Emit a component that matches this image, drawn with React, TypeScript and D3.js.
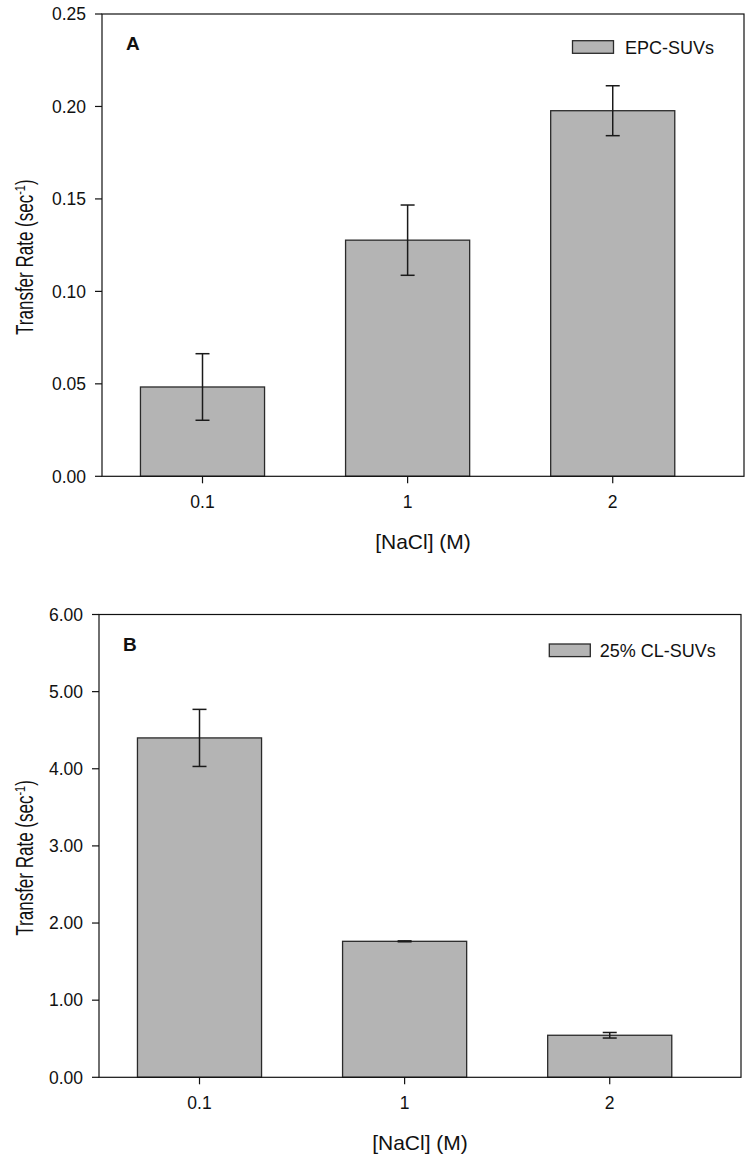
import React from "react";
import * as d3 from "d3";

const categories = ["0.1", "1", "2"];
const epcValues = [0.0483, 0.1277, 0.1977];
const epcErrors = [0.018, 0.019, 0.0135];
const clValues = [4.4, 1.763, 0.545];
const clErrors = [0.37, 0.006, 0.036];
const epcTicks = [0, 0.05, 0.1, 0.15, 0.2, 0.25];
const clTicks = [0, 1, 2, 3, 4, 5, 6];

const FONT = "'Liberation Sans', Arial, sans-serif";

type PanelProps = {
  letter: string;
  legend: string;
  values: number[];
  errors: number[];
  ticks: number[];
  yMax: number;
  fmt: (v: number) => string;
  left: number;
  right: number;
  top: number;
  bottom: number;
  legendX: number;
  legendY: number;
  legendGap: number;
};

function Panel(p: PanelProps) {
  const x = d3.scaleLinear().domain([-0.49, 2.64]).range([p.left, p.right]);
  const y = d3.scaleLinear().domain([0, p.yMax]).range([p.bottom, p.top]);
  const bw = x(0.605) - x(0);
  const capW = 7;
  return (
    <g>
      {p.values.map((v, i) => (
        <rect
          key={"b" + i}
          x={x(i) - bw / 2}
          y={y(v)}
          width={bw}
          height={y(0) - y(v)}
          fill="#b4b4b4"
          stroke="#2a2a2a"
          strokeWidth={1.3}
        />
      ))}
      {p.values.map((v, i) => {
        const cx = x(i);
        const y1 = y(v + p.errors[i]);
        const y2 = y(v - p.errors[i]);
        return (
          <g key={"e" + i} stroke="#1a1a1a" strokeWidth={1.5}>
            <line x1={cx} x2={cx} y1={y1} y2={y2} />
            <line x1={cx - capW} x2={cx + capW} y1={y1} y2={y1} />
            <line x1={cx - capW} x2={cx + capW} y1={y2} y2={y2} />
          </g>
        );
      })}
      <rect
        x={p.left}
        y={p.top}
        width={p.right - p.left}
        height={p.bottom - p.top}
        fill="none"
        stroke="#111"
        strokeWidth={1.2}
      />
      {p.ticks.map((t) => (
        <g key={"yt" + t}>
          <line x1={p.left - 7} x2={p.left} y1={y(t)} y2={y(t)} stroke="#111" strokeWidth={1.2} />
          <text
            x={p.left - 16}
            y={y(t)}
            dy="0.36em"
            textAnchor="end"
            fontSize={17.5}
            fontFamily={FONT}
            fill="#111"
          >
            {p.fmt(t)}
          </text>
        </g>
      ))}
      {categories.map((c, i) => (
        <g key={"xt" + c}>
          <line x1={x(i)} x2={x(i)} y1={p.bottom} y2={p.bottom + 7} stroke="#111" strokeWidth={1.2} />
          <text
            x={x(i)}
            y={p.bottom + 32}
            textAnchor="middle"
            fontSize={17.5}
            fontFamily={FONT}
            fill="#111"
          >
            {c}
          </text>
        </g>
      ))}
      <text
        x={(p.left + p.right) / 2}
        y={p.bottom + 73}
        textAnchor="middle"
        fontSize={21}
        fontFamily={FONT}
        fill="#111"
      >
        [NaCl] (M)
      </text>
      <text
        transform={`translate(33,${(p.top + p.bottom) / 2 + 12}) rotate(-90) scale(1,1.4)`}
        textAnchor="middle"
        fontSize={17}
        fontFamily={FONT}
        fill="#111"
      >
        Transfer Rate (sec
        <tspan dy="-6" fontSize={11}>-1</tspan>
        <tspan dy="6">)</tspan>
      </text>
      <text
        x={p.left + 24}
        y={p.top + 36}
        fontSize={19}
        fontWeight="bold"
        fontFamily={FONT}
        fill="#111"
      >
        {p.letter}
      </text>
      <rect
        x={p.legendX}
        y={p.legendY}
        width={41}
        height={12.6}
        fill="#b4b4b4"
        stroke="#2a2a2a"
        strokeWidth={1.3}
      />
      <text
        x={p.legendX + 41 + p.legendGap}
        y={p.legendY + 12.8}
        fontSize={18}
        fontFamily={FONT}
        fill="#111"
      >
        {p.legend}
      </text>
    </g>
  );
}

export default function App() {
  return (
    <svg
      width={752}
      height={1160}
      style={{ position: "absolute", left: 0, top: 0, background: "#fff" }}
    >
      <rect width={752} height={1160} fill="#fff" />
      <Panel
        letter="A"
        legend="EPC-SUVs"
        values={epcValues}
        errors={epcErrors}
        ticks={epcTicks}
        yMax={0.25}
        fmt={(v) => v.toFixed(2)}
        left={102}
        right={744}
        top={14}
        bottom={476.3}
        legendX={572.5}
        legendY={40.7}
        legendGap={11.5}
      />
      <Panel
        letter="B"
        legend="25% CL-SUVs"
        values={clValues}
        errors={clErrors}
        ticks={clTicks}
        yMax={6}
        fmt={(v) => v.toFixed(2)}
        left={99}
        right={741}
        top={614.5}
        bottom={1077.3}
        legendX={549.3}
        legendY={644}
        legendGap={9.5}
      />
    </svg>
  );
}
